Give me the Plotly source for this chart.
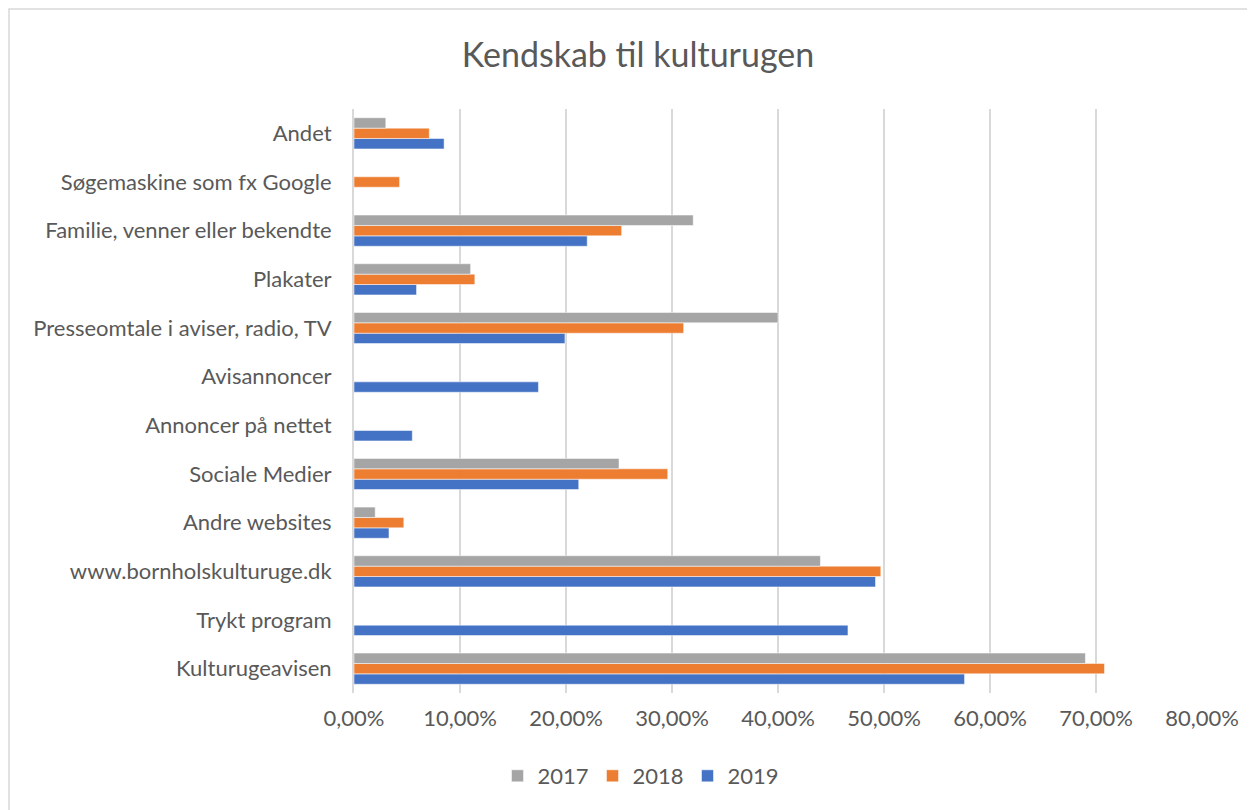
import plotly.graph_objects as go

# categories in sheet order (bottom of chart first)
categories = [
    "Kulturugeavisen",
    "Trykt program",
    "www.bornholskulturuge.dk",
    "Andre websites",
    "Sociale Medier",
    "Annoncer på nettet",
    "Avisannoncer",
    "Presseomtale i aviser, radio, TV",
    "Plakater",
    "Familie, venner eller bekendte",
    "Søgemaskine som fx Google",
    "Andet",
]

share_2017 = [0.690, None, 0.440, 0.020, 0.250, None, None, 0.400, 0.110, 0.320, None, 0.030]
share_2018 = [0.708, None, 0.497, 0.047, 0.296, None, None, 0.311, 0.114, 0.2525, 0.043, 0.071]
share_2019 = [0.576, 0.466, 0.492, 0.033, 0.212, 0.055, 0.174, 0.199, 0.059, 0.220, None, 0.085]

x_ticks = [0, 0.1, 0.2, 0.3, 0.4, 0.5, 0.6, 0.7, 0.8]

text_grey = "#595959"
font_name = "Lato"

fig = go.Figure()
# 2019 first so it sits at the bottom of each group, like Excel
for name, vals, col in [("2019", share_2019, "#4472C4"),
                        ("2018", share_2018, "#ED7D31"),
                        ("2017", share_2017, "#A5A5A5")]:
    fig.add_trace(go.Bar(
        name=name, y=categories, x=vals, orientation="h",
        marker=dict(color=col, line=dict(color="white", width=0.5)),
    ))

# page body has an 8px margin, so the figure is a bit smaller than the window
W, H = 1247, 802
ml, mr, mt, mb = 346, 53, 101, 117
pw, ph = W - ml - mr, H - mt - mb

fig.update_layout(
    width=W, height=H,
    barmode="group", bargap=0.36, bargroupgap=0,
    separators=",.",
    paper_bgcolor="white", plot_bgcolor="white",
    margin=dict(l=ml, r=mr, t=mt, b=mb, autoexpand=False),
    font=dict(family=font_name, size=22, color=text_grey),
    title=dict(text="Kendskab til kulturugen", x=630 / W, xanchor="center",
               y=1 - 47 / H, yanchor="middle",
               font=dict(family=font_name, size=34, color=text_grey)),
    legend=dict(orientation="h", traceorder="reversed",
                x=(632 - ml) / pw, xanchor="center",
                y=-(768 - mt - ph) / ph, yanchor="middle",
                font=dict(size=22, color=text_grey), itemwidth=30,
                entrywidth=50, entrywidthmode="pixels"),
    xaxis=dict(range=[0, 0.8], tickvals=x_ticks, tickformat=".2%",
               showgrid=True, gridcolor="#D9D9D9", gridwidth=2,
               zeroline=False, showline=False, ticks="", automargin=False,
               ticklabelstandoff=10,
               tickfont=dict(size=22, color=text_grey)),
    yaxis=dict(categoryorder="array", categoryarray=categories,
               showline=True, linecolor="#D9D9D9", linewidth=2,
               ticks="", ticklabelstandoff=16, automargin=False,
               tickfont=dict(size=22, color=text_grey)),
    shapes=[dict(type="rect", xref="paper", yref="paper",
                 x0=(1 - ml) / pw, x1=(1280 - ml) / pw,
                 y0=-(830 - mt - ph) / ph, y1=1 + (mt - 1) / ph,
                 line=dict(color="#D9D9D9", width=1.5), layer="below")],
)

fig.write_html("out.html")
